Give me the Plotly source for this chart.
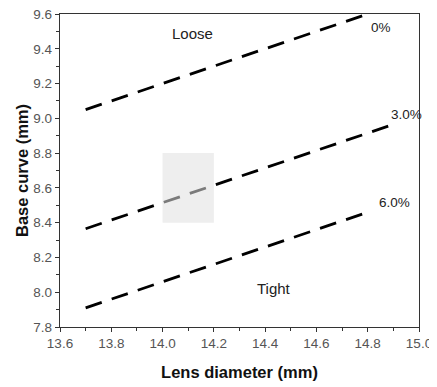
import plotly.graph_objects as go

# Data
diam_0 = [13.7, 14.8]
bc_0 = [9.05, 9.60]
diam_3 = [13.7, 14.9]
bc_3 = [8.365, 8.965]
diam_6 = [13.7, 14.8]
bc_6 = [7.91, 8.46]

labels_text = ["Loose", "Tight", "0%", "3.0%", "6.0%"]
labels_x = [14.115, 14.435, 14.85, 14.95, 14.905]
labels_y = [9.49, 8.02, 9.52, 9.02, 8.515]

region_x = [14.0, 14.2]
region_y = [8.4, 8.8]

FONT = "Liberation Sans, Arial"

fig = go.Figure()
for xs, ys in [(diam_0, bc_0), (diam_3, bc_3), (diam_6, bc_6)]:
    fig.add_trace(go.Scatter(x=xs, y=ys, mode="lines",
                             line=dict(color="black", width=2.8, dash="17px,10.5px"),
                             showlegend=False, hoverinfo="skip"))

fig.add_shape(type="rect", x0=region_x[0], x1=region_x[1], y0=region_y[0], y1=region_y[1],
              xref="x", yref="y", fillcolor="#e0e0e0", opacity=0.55,
              line=dict(width=0), layer="above")

for t, x, y in zip(labels_text, labels_x, labels_y):
    fig.add_annotation(x=x, y=y, text=t, showarrow=False, xref="x", yref="y",
                       font=dict(family=FONT, size=15 if t in ("Loose", "Tight") else 13.5,
                                 color="#222"))

axis_common = dict(showgrid=False, zeroline=False, showline=True, linecolor="#333", linewidth=1.3,
                   mirror=True, ticks="outside", ticklen=4, tickcolor="#333", tickwidth=1,
                   automargin=False, ticklabeloverflow="allow",
                   tickfont=dict(family=FONT, size=13.5, color="#555"))

fig.update_xaxes(range=[13.6, 15.0], dtick=0.2, tickformat=".1f",
                 minor=dict(dtick=0.1, ticks="outside", ticklen=3, tickcolor="#333"),
                 title=dict(text="<b>Lens diameter (mm)</b>", standoff=16,
                            font=dict(family=FONT, size=16.5, color="#111")),
                 **axis_common)
fig.update_yaxes(range=[7.8, 9.6], dtick=0.2, tickformat=".1f",
                 minor=dict(dtick=0.1, ticks="outside", ticklen=3, tickcolor="#333"),
                 title=dict(text="<b>Base curve (mm)</b>", standoff=0,
                            font=dict(family=FONT, size=16.5, color="#111")),
                 **axis_common)

# page body has an 8px margin; size the figure so it fills the 437x387 window
fig.update_layout(width=429, height=379, margin=dict(l=52, r=18, t=6, b=60),
                  plot_bgcolor="white", paper_bgcolor="white")

fig.write_html("out.html")
